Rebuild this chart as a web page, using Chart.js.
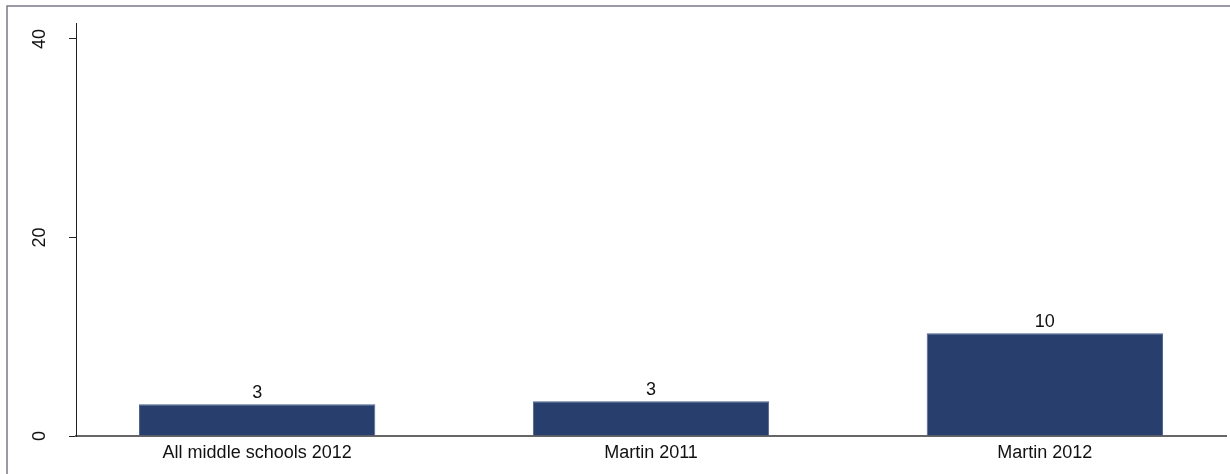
<!DOCTYPE html>
<html>
<head>
<meta charset="utf-8">
<script src="https://cdn.jsdelivr.net/npm/chart.js@4.4.1/dist/chart.umd.min.js"></script>
<style>
  html, body { margin: 0; padding: 0; background: #fff; }
  #chart { display: block; }
</style>
</head>
<body>
<canvas id="chart" width="1230" height="474"></canvas>
<script>
// data
const categories = ["All middle schools 2012", "Martin 2011", "Martin 2012"];
const values = [3.2, 3.5, 10.35];
const valueLabels = ["3", "3", "10"];
const yTicks = [0, 20, 40];

const FONT = '"Liberation Sans", Arial, sans-serif';

// frame + rotated y labels + bar values
const extras = {
  id: "extras",
  beforeDraw(chart) {
    const ctx = chart.ctx;
    ctx.save();
    ctx.strokeStyle = "#7a7a86";
    ctx.lineWidth = 1.5;
    ctx.beginPath();
    ctx.moveTo(7, 474);
    ctx.lineTo(7, 6);
    ctx.lineTo(1230, 6);
    ctx.stroke();
    ctx.restore();
  },
  afterDraw(chart) {
    const ctx = chart.ctx;
    const y = chart.scales.y;
    ctx.save();
    ctx.fillStyle = "#111";
    ctx.font = "18px " + FONT;
    ctx.textAlign = "center";
    ctx.textBaseline = "alphabetic";
    yTicks.forEach(t => {
      ctx.save();
      ctx.translate(44.5, y.getPixelForValue(t));
      ctx.rotate(-Math.PI / 2);
      ctx.fillText(String(t), 0, 0);
      ctx.restore();
    });

    ctx.font = "18px " + FONT;
    const meta = chart.getDatasetMeta(0);
    meta.data.forEach((bar, i) => {
      ctx.fillText(valueLabels[i], bar.x, bar.y - 6);
    });
    ctx.restore();
  }
};

new Chart(document.getElementById("chart"), {
  type: "bar",
  data: {
    datasets: [{
      data: values.map((v, i) => ({ x: i, y: v })),
      backgroundColor: "#283f6e",
      borderColor: "#4d6290",
      borderWidth: 1,
      barPercentage: 0.6,
      categoryPercentage: 1
    }]
  },
  options: {
    responsive: false,
    animation: false,
    layout: { padding: { left: 0, right: 4, top: 23, bottom: 0 } },
    plugins: {
      legend: { display: false },
      tooltip: { enabled: false }
    },
    scales: {
      x: {
        type: "linear",
        offset: false,
        min: -0.46,
        max: 2.46,
        afterBuildTicks: s => { s.ticks = categories.map((c, i) => ({ value: i })); },
        afterFit: s => { s.height = 38; },
        ticks: {
          callback: v => categories[v],
          color: "#111",
          font: { family: FONT, size: 18 },
          padding: 6,
          maxRotation: 0
        },
        grid: { display: false, drawTicks: false },
        border: { display: true, color: "#666", width: 2 }
      },
      y: {
        min: 0,
        max: 41.6,
        afterBuildTicks: s => { s.ticks = yTicks.map(v => ({ value: v })); },
        afterFit: s => { s.width = 76; },
        ticks: { display: false },
        grid: {
          display: true,
          drawOnChartArea: false,
          drawTicks: true,
          tickLength: 7,
          color: "#222"
        },
        border: { display: true, color: "#222", width: 1 }
      }
    }
  },
  plugins: [extras]
});
</script>
</body>
</html>
